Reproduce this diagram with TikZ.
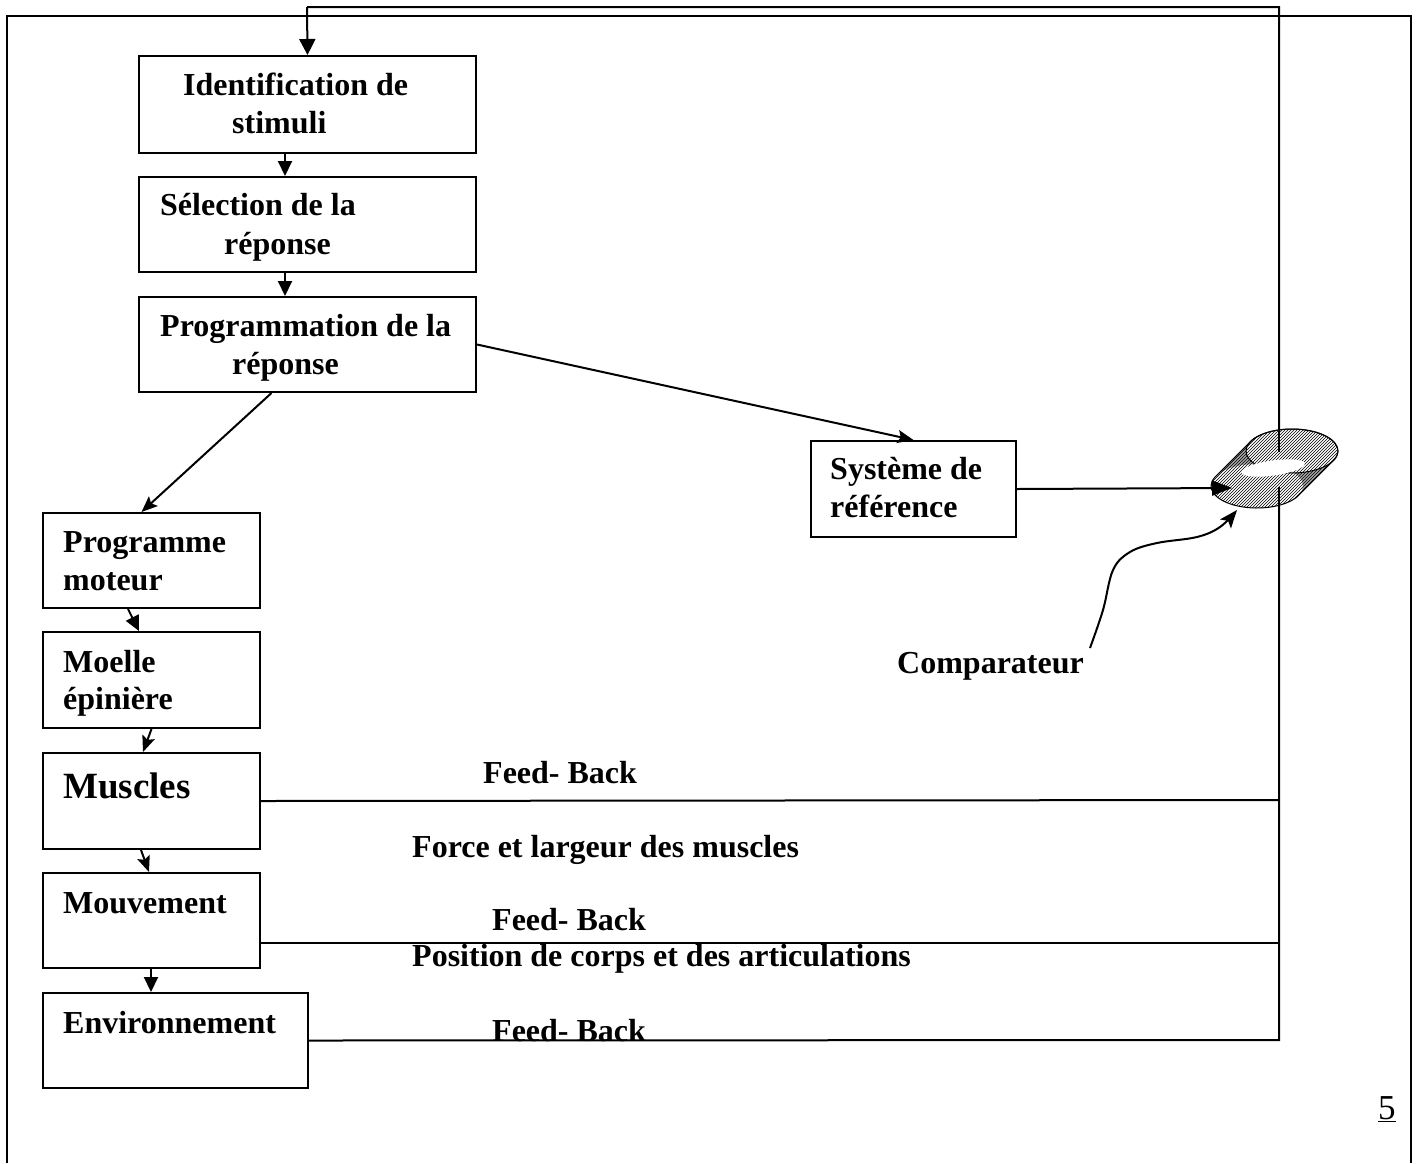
\documentclass[tikz,border=0pt]{standalone}
\usepackage{fontspec}
\setmainfont{Liberation Serif}
\usetikzlibrary{arrows.meta,patterns}
\begin{document}
\begin{tikzpicture}[x=1pt,y=-1pt,
  box/.style={draw,line width=2pt,minimum width=#1,inner sep=0pt,anchor=north west},
  lbl/.style={anchor=base west,inner sep=0pt,font=\fontsize{32}{38}\selectfont\bfseries},
  tri/.style={-{Triangle[length=15pt,width=14pt]}},
  stl/.style={-{Stealth[length=16pt,width=13pt,inset=3pt]}},
  ln/.style={line width=2pt}]
\useasboundingbox (0,0) rectangle (1419,1163);
% outer frame
\draw[ln] (7,1163) -- (7,16) -- (1411,16) -- (1411,1163);
% boxes
\node[box=337pt,minimum height=97pt] (b1) at (138,55) {};
\node[box=337pt,minimum height=95pt] (b2) at (138,176) {};
\node[box=337pt,minimum height=95pt] (b3) at (138,296) {};
\node[box=205pt,minimum height=96pt] (b4) at (810,440) {};
\node[box=217pt,minimum height=95pt] (b5) at (42,512) {};
\node[box=217pt,minimum height=96pt] (b6) at (42,631) {};
\node[box=217pt,minimum height=96pt] (b7) at (42,752) {};
\node[box=217pt,minimum height=95pt] (b8) at (42,872) {};
\node[box=265pt,minimum height=95pt] (b9) at (42,992) {};
% texts
\node[lbl] (t1a) at (183,95) {Identification de};
\node[lbl] (t1b) at (232,133) {stimuli};
\node[lbl] (t2a) at (160,215) {Sélection de la};
\node[lbl] (t2b) at (224,254) {réponse};
\node[lbl] (t3a) at (160,336) {Programmation de la};
\node[lbl] (t3b) at (232,374) {réponse};
\node[lbl] (t4a) at (830,479) {Système de};
\node[lbl] (t4b) at (830,517) {référence};
\node[lbl] (t5a) at (63,552) {Programme};
\node[lbl] (t5b) at (63,590) {moteur};
\node[lbl] (t6a) at (63,672) {Moelle};
\node[lbl] (t6b) at (63,709) {épinière};
\node[lbl,font=\fontsize{37}{42}\selectfont\bfseries] (t7) at (63,798) {Muscles};
\node[lbl] (t8) at (63,913) {Mouvement};
\node[lbl] (t9) at (63,1033) {Environnement};
\node[lbl] (f1) at (483,783) {Feed- Back};
\node[lbl] (l1) at (412,857) {Force et largeur des muscles};
\node[lbl] (f2) at (492,930) {Feed- Back};
\node[lbl] (l2) at (412,966) {Position de corps et des articulations};
\node[lbl] (f3) at (492,1041) {Feed- Back};
\node[lbl] (cmp) at (897,673) {Comparateur};
\node[anchor=base west,inner sep=0pt,font=\fontsize{35}{40}\selectfont] (pg) at (1378,1119) {\underline{5}};
% coordinates
\coordinate (top1) at (1279,7);
\coordinate (top2) at (307,7);
\coordinate (fb1) at (1279,800);
\coordinate (fb2) at (1279,943);
\coordinate (fb3) at (1279,1040);
\coordinate (cin) at (1232,488);
\coordinate (cstart) at (1090,648);
\coordinate (T) at (1292,451);
\coordinate (B) at (1257,486);
% feedback loop
\draw[ln] (b7.east) -- (fb1);
\draw[ln] (b8.east |- fb2) -- (fb2);
\draw[ln] (b9.east) -- (fb3) -- (top1) -- (top2);
\draw[ln,-{Triangle[length=16pt,width=16pt]}] (top2) -- (b1.north);
% comparator
\fill[gray!70] ([shift={(24.5:46 and 22)}]T) arc[start angle=24.5,end angle=-155.5,x radius=46,y radius=22]
   -- ++(-35,35) arc[start angle=204.5,end angle=24.5,x radius=46,y radius=22] -- cycle;
\fill[white] (B) ellipse[x radius=46,y radius=22];
\fill[white] (T) ellipse[x radius=46,y radius=22];
\path[pattern=north east lines] ([shift={(24.5:46 and 22)}]T) arc[start angle=24.5,end angle=-155.5,x radius=46,y radius=22]
   -- ++(-35,35) arc[start angle=204.5,end angle=24.5,x radius=46,y radius=22] -- cycle;
\draw[line width=1pt] (T) ellipse[x radius=46,y radius=22];
\draw[line width=1pt] ([shift={(24.5:46 and 22)}]T) arc[start angle=24.5,end angle=-155.5,x radius=46,y radius=22]
   -- ++(-35,35) arc[start angle=204.5,end angle=24.5,x radius=46,y radius=22] -- cycle;
\fill[white,rotate around={8:(1273,468)}] (1273,468) ellipse[x radius=32,y radius=7.5];
\draw[ln] (1279,425) -- (1279,452);
\draw[ln] (1279,487) -- (1279,512);
% arrows between boxes
\draw[ln,tri] ([xshift=-22.5pt]b1.south) -- ([xshift=-22.5pt]b2.north);
\draw[ln,tri] ([xshift=-22.5pt]b2.south) -- ([xshift=-22.5pt]b3.north);
\draw[ln,stl] (b3.east) -- (b4.north);
\draw[ln,stl] ([xshift=-36pt]b3.south) -- ([xshift=-10pt]b5.north);
\draw[ln,tri] ([xshift=-23.5pt]b5.south) -- ([xshift=-12.5pt]b6.north);
\draw[ln,stl] ([xshift=0pt]b6.south) -- ([xshift=-8.5pt]b7.north);
\draw[ln,stl] ([xshift=-10.5pt]b7.south) -- ([xshift=-2.5pt]b8.north);
\draw[ln,tri] ([xshift=-0.5pt]b8.south) -- ([xshift=-24.5pt]b9.north);
\draw[ln,-{Triangle[length=20pt,width=15pt]}] (b4.east) -- (cin);
\draw[ln,-{Stealth[length=18pt,width=14pt,inset=4pt]}] plot[smooth,tension=0.6] coordinates {(cstart) (1103,610) (1113,570) (1130,552) (1157,543) (1197,537) (1220,527) (1237,510)};
\end{tikzpicture}
\end{document}
